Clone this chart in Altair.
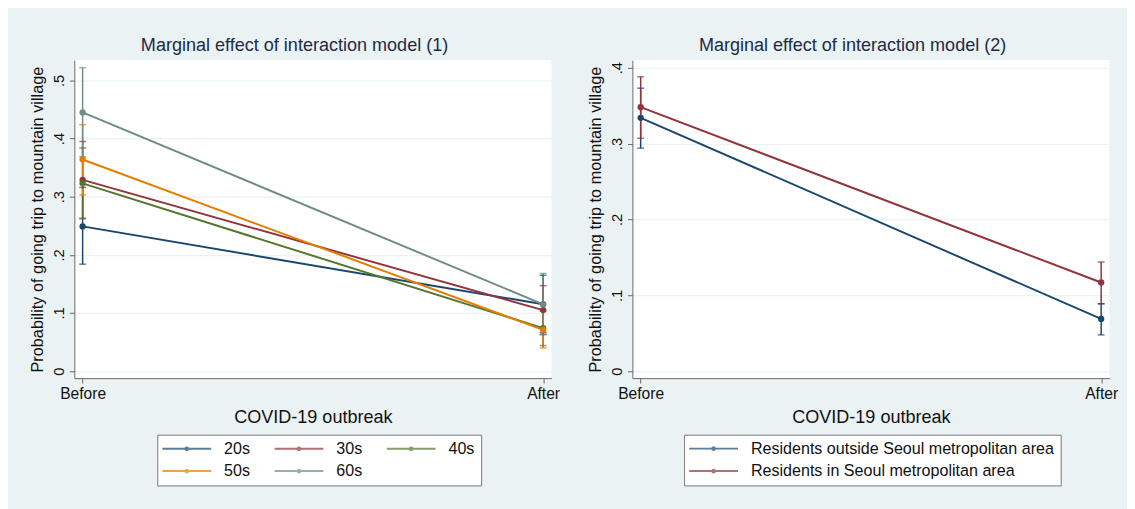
import altair as alt
import pandas as pd

# ---------------- data ----------------
x_labels = ["Before", "After"]
x_pos = [0, 1]

groups1 = ["20s", "30s", "40s", "50s", "60s"]
colors1 = ["#1a476f", "#90353b", "#55752f", "#e37e00", "#6e8e84"]
y1 = {
    "20s": [0.249, 0.115],
    "30s": [0.329, 0.105],
    "40s": [0.323, 0.074],
    "50s": [0.364, 0.071],
    "60s": [0.445, 0.115],
}
lo1 = {
    "20s": [0.184, 0.066],
    "30s": [0.263, 0.063],
    "40s": [0.262, 0.044],
    "50s": [0.303, 0.040],
    "60s": [0.369, 0.063],
}
hi1 = {
    "20s": [0.316, 0.165],
    "30s": [0.395, 0.147],
    "40s": [0.384, 0.105],
    "50s": [0.424, 0.103],
    "60s": [0.522, 0.168],
}

groups2 = ["Residents outside Seoul metropolitan area", "Residents in Seoul metropolitan area"]
colors2 = ["#1a476f", "#90353b"]
y2 = {groups2[0]: [0.334, 0.069], groups2[1]: [0.348, 0.117]}
lo2 = {groups2[0]: [0.294, 0.048], groups2[1]: [0.307, 0.089]}
hi2 = {groups2[0]: [0.373, 0.089], groups2[1]: [0.388, 0.144]}

yticks1 = [0, 0.1, 0.2, 0.3, 0.4, 0.5]
yticks2 = [0, 0.1, 0.2, 0.3, 0.4]


def make_df(groups, y, lo, hi):
    rows = []
    for gi, g in enumerate(groups):
        for i, xp in enumerate(x_pos):
            rows.append({"group": g, "order": gi, "x": xp, "label": x_labels[i],
                         "y": y[g][i], "lo": lo[g][i], "hi": hi[g][i]})
    return pd.DataFrame(rows)


df1 = make_df(groups1, y1, lo1, hi1)
df2 = make_df(groups2, y2, lo2, hi2)

FONT = "Liberation Sans"
PW, PH = 489, 326
# legend glyph: a line with a dot in the middle (unit coords, scaled by sqrt(size)/2)
sym_path = "M-4,0H4M-0.22,0a0.22,0.22 0 1,0 0.44,0a0.22,0.22 0 1,0 -0.44,0"

label_expr_y = "datum.value == 0 ? '0' : replace(format(datum.value, '.1f'), '0.', '.')"
label_expr_x = "datum.value == 0 ? 'Before' : 'After'"


def panel(df, groups, colors, ydom, yticks, title, legend_x, legend_y, columns):
    xenc = alt.X("x:Q", scale=alt.Scale(domain=[-0.018, 1.018], nice=False, zero=False),
                 axis=alt.Axis(values=[0, 1], labelExpr=label_expr_x, title="COVID-19 outbreak",
                               grid=False, tickSize=5, labelPadding=3, titlePadding=6,
                               labelFontSize=16, titleFontSize=18.5))
    yenc = alt.Y("y:Q", scale=alt.Scale(domain=ydom, nice=False, zero=False),
                 axis=alt.Axis(values=yticks, labelExpr=label_expr_y,
                               title="Probability of going trip to mountain village",
                               grid=True, gridColor="#EAF2F3", gridWidth=1.2,
                               tickSize=5, labelAngle=270, labelAlign="center",
                               labelBaseline="bottom", labelPadding=3, titlePadding=6,
                               labelFontSize=15, titleFontSize=16.7))
    cscale = alt.Scale(domain=groups, range=colors)
    leg = alt.Legend(title=None, orient="none", legendX=legend_x,
                     legendY=legend_y, columns=columns,
                     direction="horizontal",
                     symbolType=sym_path, symbolSize=156.25, symbolOffset=16,
                     symbolStrokeWidth=2, labelFontSize=16.5,
                     labelFont=FONT, labelColor="#111111",
                     labelOffset=30, columnPadding=20, rowPadding=6,
                     padding=6, strokeColor="#777777",
                     fillColor="white", labelLimit=400)
    col = alt.Color("group:N", scale=cscale, legend=leg)
    base = alt.Chart(df)
    lines = base.mark_line(strokeWidth=2).encode(
        x=xenc, y=yenc, detail="group:N", order="x:Q", color=col)
    rules = base.mark_rule(strokeWidth=1.5).encode(
        x="x:Q", y=alt.Y("lo:Q"), y2="hi:Q", color=col)
    caps_lo = base.mark_tick(orient="horizontal", size=7, thickness=1.5).encode(
        x="x:Q", y="lo:Q", color=col)
    caps_hi = base.mark_tick(orient="horizontal", size=7, thickness=1.5).encode(
        x="x:Q", y="hi:Q", color=col)
    pts = base.mark_point(filled=True, size=42, opacity=1).encode(
        x="x:Q", y="y:Q", color=col)
    return alt.layer(lines, rules, caps_lo, caps_hi, pts).properties(
        width=PW, height=PH,
        title=alt.TitleParams(title, fontSize=18.5, font=FONT, fontWeight="normal",
                              color="#1e2b45", anchor="middle", frame="bounds", offset=6))


left = panel(df1, groups1, colors1, [-0.012, 0.535], yticks1,
             "Marginal effect of interaction model (1)", 85, 384, 3)
right = panel(df2, groups2, colors2, [-0.009, 0.41], yticks2,
              "Marginal effect of interaction model (2)", 53, 384, 1)

chart = alt.hconcat(left, right, spacing=28).resolve_scale(
    color="independent", x="independent", y="independent"
).properties(
    background="#EAF2F3",
    padding={"left": 22, "top": 22, "right": 9, "bottom": 28},
).configure_view(
    stroke=None, fill="white"
).configure_axis(
    labelFont=FONT, titleFont=FONT, labelColor="#111111", titleColor="#111111",
    titleFontWeight="normal", domainColor="#666666", tickColor="#666666",
).configure_title(font=FONT)

chart.save("out.html", embed_options={"renderer": "svg", "actions": False})
